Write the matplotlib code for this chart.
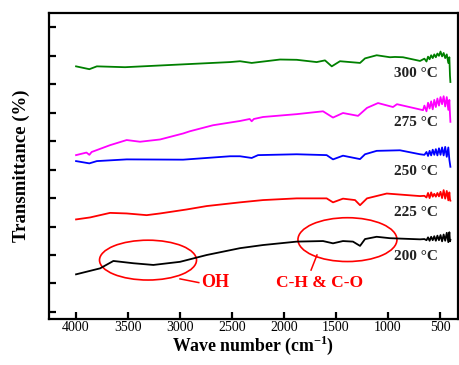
import matplotlib
matplotlib.use("Agg")
import matplotlib.pyplot as plt
from matplotlib.patches import Ellipse

plt.rcParams['font.family'] = ['Liberation Serif', 'DejaVu Serif']
plt.rcParams['mathtext.fontset'] = 'custom'
plt.rcParams['mathtext.rm'] = 'Liberation Serif'
plt.rcParams['mathtext.bf'] = 'Liberation Serif:bold'

# ---- data (wavenumber cm^-1, transmittance in arbitrary offset units) ----
tail_wn = [650, 630, 615, 600, 585, 570, 555, 540, 525, 510, 495, 480, 465, 450, 435, 420, 410, 404, 400]

wn_300 = [4000, 3872, 3800, 3529, 2971, 2519, 2423, 2311, 2038, 1878, 1686, 1606, 1541, 1462,
          1269, 1221, 1109, 981, 933, 856, 692] + tail_wn
t_300 = [8.63, 8.53, 8.63, 8.60, 8.70, 8.78, 8.81, 8.75, 8.87, 8.86, 8.78, 8.84, 8.63, 8.81,
         8.75, 8.91, 9.02, 8.95, 8.96, 8.95, 8.82,
         8.90, 8.80, 8.97, 8.88, 9.02, 8.92, 9.05, 8.95, 9.08, 9.00, 9.15, 8.98, 9.10, 8.92,
         9.05, 8.75, 8.95, 8.30, 8.08]

wn_275 = [4000, 3900, 3872, 3850, 3673, 3513, 3385, 3192, 2971, 2904, 2683, 2423, 2330, 2311,
          2290, 2202, 1878, 1625, 1529, 1433, 1288, 1202, 1096, 952, 914, 663] + tail_wn
t_275 = [5.51, 5.60, 5.52, 5.62, 5.86, 6.04, 5.98, 6.06, 6.27, 6.35, 6.56, 6.71, 6.78, 6.70,
         6.78, 6.85, 6.95, 7.05, 6.83, 6.99, 6.89, 7.17, 7.34, 7.20, 7.30, 7.09,
         7.25, 7.05, 7.35, 7.15, 7.40, 7.12, 7.45, 7.20, 7.50, 7.25, 7.55, 7.30, 7.58, 7.22,
         7.55, 7.10, 7.45, 6.95, 6.68]

wn_250 = [4000, 3872, 3800, 3513, 2971, 2519, 2423, 2311, 2250, 1878, 1590, 1529, 1433, 1269,
          1221, 1109, 885, 692] + tail_wn
t_250 = [5.30, 5.22, 5.30, 5.36, 5.35, 5.47, 5.47, 5.41, 5.51, 5.54, 5.51, 5.36, 5.49, 5.37,
         5.54, 5.66, 5.68, 5.54,
         5.52, 5.62, 5.48, 5.66, 5.50, 5.70, 5.52, 5.72, 5.50, 5.75, 5.52, 5.78, 5.50, 5.80,
         5.45, 5.78, 5.35, 5.20, 5.10]

wn_225 = [4000, 3865, 3673, 3513, 3321, 3192, 2936, 2743, 2423, 2202, 1878, 1590, 1529, 1433,
          1317, 1269, 1202, 1012, 692] + tail_wn
t_225 = [3.25, 3.32, 3.48, 3.46, 3.40, 3.46, 3.60, 3.72, 3.85, 3.93, 3.99, 3.99, 3.85, 3.98,
         3.93, 3.75, 3.99, 4.16, 4.07,
         4.08, 4.02, 4.18, 4.00, 4.20, 4.05, 4.15, 4.05, 4.18, 4.06, 4.22, 4.00, 4.28, 3.98,
         4.25, 3.92, 4.20, 3.95, 3.91]

wn_200 = [4000, 3769, 3641, 3449, 3257, 3000, 2743, 2423, 2202, 1878, 1625, 1529, 1433, 1337,
          1269, 1221, 1109, 981, 692] + tail_wn
t_200 = [1.32, 1.53, 1.79, 1.71, 1.65, 1.76, 2.00, 2.24, 2.35, 2.47, 2.49, 2.41, 2.49, 2.47,
         2.32, 2.56, 2.64, 2.59, 2.55,
         2.56, 2.52, 2.62, 2.50, 2.64, 2.52, 2.66, 2.50, 2.68, 2.52, 2.70, 2.48, 2.72, 2.50,
         2.78, 2.45, 2.80, 2.48, 2.53]

series = [
    (wn_300, t_300, '#008000', '300 °C', 8.39),
    (wn_275, t_275, '#ff00ff', '275 °C', 6.67),
    (wn_250, t_250, '#0000ff', '250 °C', 4.95),
    (wn_225, t_225, '#ff0000', '225 °C', 3.51),
    (wn_200, t_200, '#000000', '200 °C', 1.93),
]

x_ticks = [4000, 3500, 3000, 2500, 2000, 1500, 1000, 500]

fig = plt.figure(figsize=(4.59, 3.65), dpi=100)
ax = fig.add_axes([0.1068, 0.126, 0.891, 0.838])

for wn, t, c, lab, ly in series:
    ax.plot(wn, t, color=c, lw=1.3)
    ax.text(730, ly, lab, ha='center', va='center', fontsize=11,
            fontweight='bold', color='#222222')

ax.set_xlim(4260, 327)
ax.set_ylim(-0.25, 10.5)
ax.set_xticks(x_ticks)
ax.set_xticklabels([str(v) for v in x_ticks], fontsize=10)
ax.set_yticks(range(11))
ax.set_yticklabels([])
ax.tick_params(direction='in', length=5, width=1.6, top=False, right=False)
ax.tick_params(axis='x', pad=1.5)
for s in ax.spines.values():
    s.set_linewidth(1.6)

ax.set_xlabel('Wave number (cm$^{\\mathbf{-1}}$)', fontsize=12.8, fontweight='bold', labelpad=0)
ax.set_ylabel('Transmittance (%)', fontsize=13.5, fontweight='bold', labelpad=10)

# annotations
ax.add_patch(Ellipse((3308, 1.82), 933, 1.40, fill=False, ec='#ff0000', lw=1.2))
ax.add_patch(Ellipse((1390, 2.54), 952, 1.54, fill=False, ec='#ff0000', lw=1.2))
ax.plot([3000, 2820], [1.16, 1.03], color='#ff0000', lw=1.1)
ax.text(2800, 1.03, 'OH', ha='left', va='center', fontsize=13,
        fontweight='bold', color='#ff0000')
ax.plot([1683, 1740], [2.0, 1.47], color='#ff0000', lw=1.1)
ax.text(1655, 1.03, 'C-H & C-O', ha='center', va='center', fontsize=12.5,
        fontweight='bold', color='#ff0000')

fig.savefig('out.png', dpi=100)
